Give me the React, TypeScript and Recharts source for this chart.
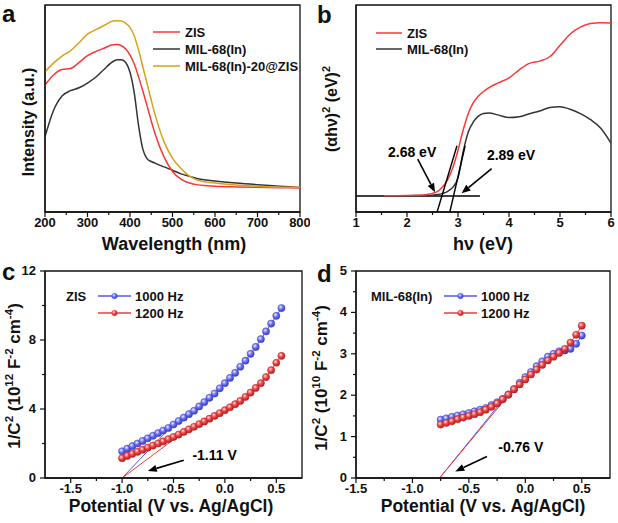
import React from 'react';
import { LineChart, Line, XAxis, YAxis, ReferenceLine, ReferenceArea, ReferenceDot } from 'recharts';

const FONT = '"Liberation Sans", Arial, Helvetica, sans-serif';
const INK = '#111';

// (a) UV-vis absorption
const wavelength = [200, 220, 240, 260, 280, 300, 320, 340, 360, 370, 380, 390, 400, 410, 420, 430, 440, 450, 460, 480, 500, 520, 540, 560, 580, 600, 650, 700, 750, 800];
const absZIS = [61.3, 66.2, 68.8, 69.3, 72.2, 75.5, 77.6, 79.2, 80.8, 80.9, 80.3, 78.7, 75.8, 71.5, 65.4, 58.6, 51.4, 44.0, 37.2, 26.6, 19.6, 15.9, 14.0, 13.1, 12.7, 12.4, 12.1, 11.9, 11.7, 11.6];
const absMIL = [36.3, 49.0, 56.0, 58.6, 60.0, 62.3, 65.2, 69.1, 72.7, 73.5, 73.6, 72.2, 67.5, 57.5, 42.0, 30.5, 25.8, 24.4, 23.5, 21.8, 20.2, 18.4, 17.2, 16.1, 15.5, 15.0, 14.0, 13.2, 12.5, 11.8];
const absComposite = [67.7, 71.9, 75.3, 77.9, 81.8, 85.9, 88.1, 90.2, 92.3, 92.4, 92.3, 91.2, 89.2, 85.0, 78.3, 70.3, 62.2, 54.0, 46.3, 34.0, 26.0, 21.0, 17.3, 15.3, 14.5, 14.0, 13.1, 12.5, 12.0, 11.9];
const ticksA = [200, 250, 300, 350, 400, 450, 500, 550, 600, 650, 700, 750, 800];
const majorA = [200, 300, 400, 500, 600, 700, 800];

// (b) Tauc plot
const photonEnergy = [1.55, 1.8, 2.0, 2.2, 2.4, 2.5, 2.6, 2.7, 2.8, 2.9, 3.0, 3.1, 3.2, 3.3, 3.4, 3.5, 3.6, 3.8, 4.0, 4.2, 4.4, 4.6, 4.8, 5.0, 5.2, 5.4, 5.6, 5.8, 6.0];
const taucZIS = [7.9, 7.9, 7.95, 8.1, 8.5, 9.0, 10.0, 12.2, 15.8, 21.5, 29.8, 39.5, 47.5, 52.8, 56.0, 58.2, 60.0, 62.5, 64.8, 68.7, 71.8, 72.9, 75.0, 80.5, 86.0, 89.3, 91.1, 91.4, 91.3];
const taucMIL = [7.9, 7.9, 7.9, 7.95, 8.0, 8.1, 8.4, 9.0, 10.0, 12.0, 16.5, 29.0, 38.5, 43.5, 46.3, 47.6, 47.8, 46.8, 45.6, 46.0, 47.5, 48.8, 50.5, 50.9, 49.6, 47.5, 44.6, 40.5, 33.3];
const ticksB = [1, 1.5, 2, 2.5, 3, 3.5, 4, 4.5, 5, 5.5, 6];
const majorB = [1, 2, 3, 4, 5, 6];
const baselineB = [{ x: 1, y: 7.7 }, { x: 3.43, y: 7.7 }];
const tangentsB = [
  [{ x: 2.59, y: 0 }, { x: 2.98, y: 32 }],
  [{ x: 2.84, y: 0 }, { x: 3.14, y: 32 }],
];
const arrowsB = [
  [{ x: 2.21, y: 25.5 }, { x: 2.55, y: 9.5 }],
  [{ x: 3.66, y: 21 }, { x: 3.07, y: 9.0 }],
];
const notesB = [
  { x: 2.1, y: 29, text: '2.68 eV' },
  { x: 4.04, y: 27.5, text: '2.89 eV' },
];

// (c) Mott-Schottky, ZIS
const potC = [-1.0, -0.95, -0.9, -0.85, -0.8, -0.75, -0.7, -0.65, -0.6, -0.55, -0.5, -0.45, -0.4, -0.35, -0.3, -0.25, -0.2, -0.15, -0.1, -0.05, 0.0, 0.05, 0.1, 0.15, 0.2, 0.25, 0.3, 0.35, 0.4, 0.45, 0.5, 0.55];
const zis1000 = [1.55, 1.7, 1.85, 2.0, 2.15, 2.3, 2.45, 2.6, 2.75, 2.9, 3.1, 3.3, 3.5, 3.7, 3.9, 4.15, 4.4, 4.65, 4.9, 5.2, 5.5, 5.8, 6.1, 6.45, 6.8, 7.2, 7.6, 8.05, 8.5, 8.95, 9.4, 9.85];
const zis1200 = [1.15, 1.28, 1.4, 1.52, 1.64, 1.76, 1.88, 2.0, 2.12, 2.25, 2.38, 2.52, 2.67, 2.82, 2.97, 3.12, 3.28, 3.44, 3.6, 3.76, 3.93, 4.1, 4.28, 4.47, 4.7, 4.95, 5.22, 5.5, 5.85, 6.25, 6.68, 7.08];
const fitC1000 = [{ x: -1.0, y: 0 }, { x: -0.52, y: 3.0 }];
const fitC1200 = [{ x: -1.0, y: 0 }, { x: -0.45, y: 2.45 }];
const arrowC = [{ x: -0.4, y: 1.03 }, { x: -0.75, y: 0.41 }];
const noteC = { x: -0.1, y: 1.33, text: '-1.11 V' };
const ticksCx = [-1.5, -1.25, -1, -0.75, -0.5, -0.25, 0, 0.25, 0.5];
const majorCx = [-1.5, -1, -0.5, 0, 0.5];
const ticksCy = [0, 2, 4, 6, 8, 10, 12];
const majorCy = [0, 4, 8, 12];

// (d) Mott-Schottky, MIL-68(In)
const potD = [-0.75, -0.7, -0.65, -0.6, -0.55, -0.5, -0.45, -0.4, -0.35, -0.3, -0.25, -0.2, -0.15, -0.1, -0.05, 0.0, 0.05, 0.1, 0.15, 0.2, 0.25, 0.3, 0.35, 0.4, 0.45, 0.5];
const mil1000 = [1.41, 1.44, 1.48, 1.51, 1.54, 1.57, 1.61, 1.65, 1.69, 1.76, 1.83, 1.91, 2.02, 2.15, 2.3, 2.44, 2.56, 2.7, 2.82, 2.93, 3.0, 3.06, 3.08, 3.12, 3.24, 3.44];
const mil1200 = [1.29, 1.33, 1.37, 1.42, 1.46, 1.5, 1.54, 1.59, 1.65, 1.72, 1.8, 1.9, 2.01, 2.14, 2.26, 2.38, 2.5, 2.62, 2.73, 2.84, 2.93, 3.02, 3.12, 3.27, 3.46, 3.68];
const fitD1000 = [{ x: -0.76, y: 0 }, { x: -0.2, y: 1.88 }];
const fitD1200 = [{ x: -0.76, y: 0 }, { x: -0.17, y: 1.93 }];
const arrowD = [{ x: -0.34, y: 0.52 }, { x: -0.62, y: 0.16 }];
const noteD = { x: -0.04, y: 0.75, text: '-0.76 V' };
const ticksDx = [-1.5, -1.25, -1, -0.75, -0.5, -0.25, 0, 0.25, 0.5];
const majorDx = [-1.5, -1, -0.5, 0, 0.5];
const ticksDy = [0, 0.5, 1, 1.5, 2, 2.5, 3, 3.5, 4, 4.5, 5];
const majorDy = [0, 1, 2, 3, 4, 5];

const RED = '#ff3535';
const BLACK = '#333333';
const GOLD = '#d6a21a';
const BLUE_L = '#4a5af5';
const RED_L = '#f23a3a';

const dataA = wavelength.map((w, i) => ({ w, zis: absZIS[i], mil: absMIL[i], comp: absComposite[i] }));
const dataB = photonEnergy.map((e, i) => ({ e, zis: taucZIS[i], mil: taucMIL[i] }));
const dataC = potC.map((p, i) => ({ p, f1000: zis1000[i], f1200: zis1200[i] }));
const dataD = potD.map((p, i) => ({ p, f1000: mil1000[i], f1200: mil1200[i] }));

const int = (v: number) => String(v);
const one = (v: number) => v.toFixed(1);

const xTick = (majors: number[], fmt: (v: number) => string) => (p: any) => {
  const v = p.payload.value;
  const major = majors.includes(v);
  return (
    <g key={`xt${v}`}>
      <line x1={p.x} y1={p.y} x2={p.x} y2={p.y + (major ? 5 : 3)} stroke={INK} strokeWidth={1.2} />
      {major && (
        <text x={p.x} y={p.y + 15} textAnchor="middle" fontSize={13} fontWeight={700} fill={INK}>
          {fmt(v)}
        </text>
      )}
    </g>
  );
};

const yTick = (majors: number[]) => (p: any) => {
  const v = p.payload.value;
  const major = majors.includes(v);
  return (
    <g key={`yt${v}`}>
      <line x1={p.x - (major ? 5 : 3)} y1={p.y} x2={p.x} y2={p.y} stroke={INK} strokeWidth={1.2} />
      {major && (
        <text x={p.x - 9} y={p.y + 4} textAnchor="end" fontSize={13} fontWeight={700} fill={INK}>
          {v}
        </text>
      )}
    </g>
  );
};

const Arrow = (p: any) => {
  const { x1, y1, x2, y2 } = p;
  const ang = Math.atan2(y2 - y1, x2 - x1);
  const L = 9;
  const W = 3.6;
  const bx = x2 - L * Math.cos(ang);
  const by = y2 - L * Math.sin(ang);
  const px = -Math.sin(ang) * W;
  const py = Math.cos(ang) * W;
  return (
    <g>
      <line x1={x1} y1={y1} x2={bx} y2={by} stroke="#000" strokeWidth={1.6} />
      <polygon points={`${x2},${y2} ${bx + px},${by + py} ${bx - px},${by - py}`} fill="#000" />
    </g>
  );
};

const ball = (grad: string, stroke: string, r = 3.6) => (p: any) => (
  <circle key={`b${grad}${p.index}`} cx={p.cx} cy={p.cy} r={r} fill={`url(#${grad})`} stroke={stroke} strokeWidth={0.5} />
);

const axisLine = { stroke: INK, strokeWidth: 1.3 };
const frame = { fill: 'none', stroke: INK, strokeWidth: 1.3, fillOpacity: 0 };
const noteLabel = (text: string) => ({ value: text, position: 'center' as const, fill: '#000', fontSize: 14, fontWeight: 700 });

// text with superscripts: [text, isSuper]
const rich = (parts: [string, boolean][]) => {
  let prev = false;
  return parts.map(([t, sup], i) => {
    const dy = sup && !prev ? -7 : !sup && prev ? 7 : undefined;
    prev = sup;
    return (
      <tspan key={i} dy={dy} fontSize={sup ? '68%' : undefined}>
        {t}
      </tspan>
    );
  });
};

const LegendRow = ({ x, y, len, gap, color, label, grad }: { x: number; y: number; len: number; gap: number; color: string; label: string; grad?: string }) => (
  <g>
    <line x1={x} y1={y} x2={x + len} y2={y} stroke={color} strokeWidth={1.5} />
    {grad && <circle cx={x + len / 2} cy={y} r={2.8} fill={`url(#${grad})`} stroke={color} strokeWidth={0.5} />}
    <text x={x + len + gap} y={y + 4.6} fontSize={13} fontWeight={700} fill={INK}>{label}</text>
  </g>
);

const Overlay = () => (
  <svg width={618} height={523} style={{ position: 'absolute', left: 0, top: 0, pointerEvents: 'none' }}>
    <defs>
      <radialGradient id="ballBlue" cx="38%" cy="35%" r="65%">
        <stop offset="0%" stopColor="#eef0ff" />
        <stop offset="45%" stopColor="#7378f6" />
        <stop offset="100%" stopColor="#353bc4" />
      </radialGradient>
      <radialGradient id="ballRed" cx="38%" cy="35%" r="65%">
        <stop offset="0%" stopColor="#ffe4e4" />
        <stop offset="45%" stopColor="#f24c4c" />
        <stop offset="100%" stopColor="#b41c1c" />
      </radialGradient>
    </defs>
    <g fontWeight={700} fill={INK}>
      <text x={2} y={22} fontSize={24}>a</text>
      <text x={317} y={23} fontSize={24}>b</text>
      <text x={2} y={280} fontSize={24}>c</text>
      <text x={317} y={282} fontSize={24}>d</text>

      <text transform="translate(34,122) rotate(-90)" textAnchor="middle" fontSize={16}>Intensity (a.u.)</text>
      <text x={174} y={250} textAnchor="middle" fontSize={18}>Wavelength (nm)</text>

      <text transform="translate(337,109) rotate(-90)" textAnchor="middle" fontSize={16}>
        {rich([['(αhν)', false], ['2', true], [' (eV)', false], ['2', true]])}
      </text>
      <text x={483} y={250} textAnchor="middle" fontSize={18}>hν (eV)</text>

      <text transform="translate(20,376) rotate(-90)" textAnchor="middle" fontSize={17}>
        {rich([['1/C', false], ['2', true], [' (10', false], ['12', true], [' F', false], ['-2', true], [' cm', false], ['-4', true], [')', false]])}
      </text>
      <text x={171} y={512} textAnchor="middle" fontSize={17.5}>Potential (V vs. Ag/AgCl)</text>

      <text transform="translate(327,378) rotate(-90)" textAnchor="middle" fontSize={17}>
        {rich([['1/C', false], ['2', true], [' (10', false], ['10', true], [' F', false], ['-2', true], [' cm', false], ['-4', true], [')', false]])}
      </text>
      <text x={483} y={512} textAnchor="middle" fontSize={17.5}>Potential (V vs. Ag/AgCl)</text>
    </g>

    <LegendRow x={153} y={32} len={27} gap={5} color={RED} label="ZIS" />
    <LegendRow x={153} y={49} len={27} gap={5} color={BLACK} label="MIL-68(In)" />
    <LegendRow x={153} y={66} len={27} gap={5} color={GOLD} label="MIL-68(In)-20@ZIS" />

    <LegendRow x={376} y={33} len={26} gap={5} color={RED} label="ZIS" />
    <LegendRow x={376} y={49} len={26} gap={5} color={BLACK} label="MIL-68(In)" />

    <text x={66} y={301} fontSize={13} fontWeight={700} fill={INK}>ZIS</text>
    <LegendRow x={98} y={296} len={33} gap={4} color={BLUE_L} label="1000 Hz" grad="ballBlue" />
    <LegendRow x={98} y={313} len={33} gap={4} color={RED_L} label="1200 Hz" grad="ballRed" />

    <text x={371} y={301} fontSize={13} fontWeight={700} fill={INK}>MIL-68(In)</text>
    <LegendRow x={444} y={296} len={33} gap={4} color={BLUE_L} label="1000 Hz" grad="ballBlue" />
    <LegendRow x={444} y={313} len={33} gap={4} color={RED_L} label="1200 Hz" grad="ballRed" />
  </svg>
);

const App: React.FC = () => (
  <div style={{ position: 'absolute', left: 0, top: 0, width: 618, height: 523, background: '#fff', fontFamily: FONT, overflow: 'hidden' }}>
    {/* a */}
    <div style={{ position: 'absolute', left: 0, top: 0 }}>
      <LineChart width={310} height={260} data={dataA} margin={{ top: 5, right: 10, bottom: 0, left: 0 }}>
        <XAxis dataKey="w" type="number" domain={[200, 800]} ticks={ticksA} interval={0} allowDataOverflow
          tick={xTick(majorA, int)} tickLine={false} tickSize={0} tickMargin={0} height={48} axisLine={axisLine} />
        <YAxis type="number" domain={[0, 100]} allowDataOverflow width={45} tick={false} axisLine={axisLine} />
        <ReferenceArea x1={200} x2={800} y1={0} y2={100} {...frame} />
        <Line dataKey="mil" type="monotone" stroke={BLACK} strokeWidth={1.5} dot={false} isAnimationActive={false} />
        <Line dataKey="zis" type="monotone" stroke={RED} strokeWidth={1.5} dot={false} isAnimationActive={false} />
        <Line dataKey="comp" type="monotone" stroke={GOLD} strokeWidth={1.5} dot={false} isAnimationActive={false} />
      </LineChart>
    </div>

    {/* b */}
    <div style={{ position: 'absolute', left: 310, top: 0 }}>
      <LineChart width={308} height={260} data={dataB} margin={{ top: 5, right: 7, bottom: 0, left: 0 }}>
        <XAxis dataKey="e" type="number" domain={[1, 6]} ticks={ticksB} interval={0} allowDataOverflow
          tick={xTick(majorB, int)} tickLine={false} tickSize={0} tickMargin={0} height={48} axisLine={axisLine} />
        <YAxis type="number" domain={[0, 100]} allowDataOverflow width={46} tick={false} axisLine={axisLine} />
        <ReferenceArea x1={1} x2={6} y1={0} y2={100} {...frame} />
        <ReferenceLine segment={baselineB} stroke="#000" strokeWidth={1.4} />
        <Line dataKey="mil" type="monotone" stroke={BLACK} strokeWidth={1.5} dot={false} isAnimationActive={false} />
        <Line dataKey="zis" type="monotone" stroke={RED} strokeWidth={1.5} dot={false} isAnimationActive={false} />
        {tangentsB.map((s, i) => (
          <ReferenceLine key={`t${i}`} segment={s} stroke="#000" strokeWidth={1.4} />
        ))}
        {arrowsB.map((s, i) => (
          <ReferenceLine key={`a${i}`} segment={s} shape={Arrow} />
        ))}
        {notesB.map((n) => (
          <ReferenceDot key={n.text} x={n.x} y={n.y} r={0} fill="none" stroke="none" label={noteLabel(n.text)} />
        ))}
      </LineChart>
    </div>

    {/* c */}
    <div style={{ position: 'absolute', left: 0, top: 260 }}>
      <LineChart width={310} height={263} data={dataC} margin={{ top: 11, right: 8, bottom: 0, left: 0 }}>
        <XAxis dataKey="p" type="number" domain={[-1.75, 0.75]} ticks={ticksCx} interval={0} allowDataOverflow
          tick={xTick(majorCx, one)} tickLine={false} tickSize={0} tickMargin={0} height={45} axisLine={axisLine} />
        <YAxis type="number" domain={[0, 12]} ticks={ticksCy} interval={0} allowDataOverflow width={45}
          tick={yTick(majorCy)} tickLine={false} tickSize={0} tickMargin={0} axisLine={axisLine} />
        <ReferenceArea x1={-1.75} x2={0.75} y1={0} y2={12} {...frame} />
        <ReferenceLine segment={fitC1000} stroke={BLUE_L} strokeWidth={1} />
        <ReferenceLine segment={fitC1200} stroke={RED_L} strokeWidth={1} />
        <Line dataKey="f1000" type="linear" stroke={BLUE_L} strokeWidth={1} dot={ball('ballBlue', '#3a40c8')} isAnimationActive={false} />
        <Line dataKey="f1200" type="linear" stroke={RED_L} strokeWidth={1} dot={ball('ballRed', '#c02020')} isAnimationActive={false} />
        <ReferenceLine segment={arrowC} shape={Arrow} />
        <ReferenceDot x={noteC.x} y={noteC.y} r={0} fill="none" stroke="none" label={noteLabel(noteC.text)} />
      </LineChart>
    </div>

    {/* d */}
    <div style={{ position: 'absolute', left: 310, top: 260 }}>
      <LineChart width={308} height={263} data={dataD} margin={{ top: 11, right: 8, bottom: 0, left: 0 }}>
        <XAxis dataKey="p" type="number" domain={[-1.5, 0.75]} ticks={ticksDx} interval={0} allowDataOverflow
          tick={xTick(majorDx, one)} tickLine={false} tickSize={0} tickMargin={0} height={45} axisLine={axisLine} />
        <YAxis type="number" domain={[0, 5]} ticks={ticksDy} interval={0} allowDataOverflow width={46}
          tick={yTick(majorDy)} tickLine={false} tickSize={0} tickMargin={0} axisLine={axisLine} />
        <ReferenceArea x1={-1.5} x2={0.75} y1={0} y2={5} {...frame} />
        <ReferenceLine segment={fitD1000} stroke={BLUE_L} strokeWidth={1} />
        <ReferenceLine segment={fitD1200} stroke={RED_L} strokeWidth={1} />
        <Line dataKey="f1000" type="linear" stroke={BLUE_L} strokeWidth={1} dot={ball('ballBlue', '#3a40c8')} isAnimationActive={false} />
        <Line dataKey="f1200" type="linear" stroke={RED_L} strokeWidth={1} dot={ball('ballRed', '#c02020')} isAnimationActive={false} />
        <ReferenceLine segment={arrowD} shape={Arrow} />
        <ReferenceDot x={noteD.x} y={noteD.y} r={0} fill="none" stroke="none" label={noteLabel(noteD.text)} />
      </LineChart>
    </div>

    <Overlay />
  </div>
);

export default App;
